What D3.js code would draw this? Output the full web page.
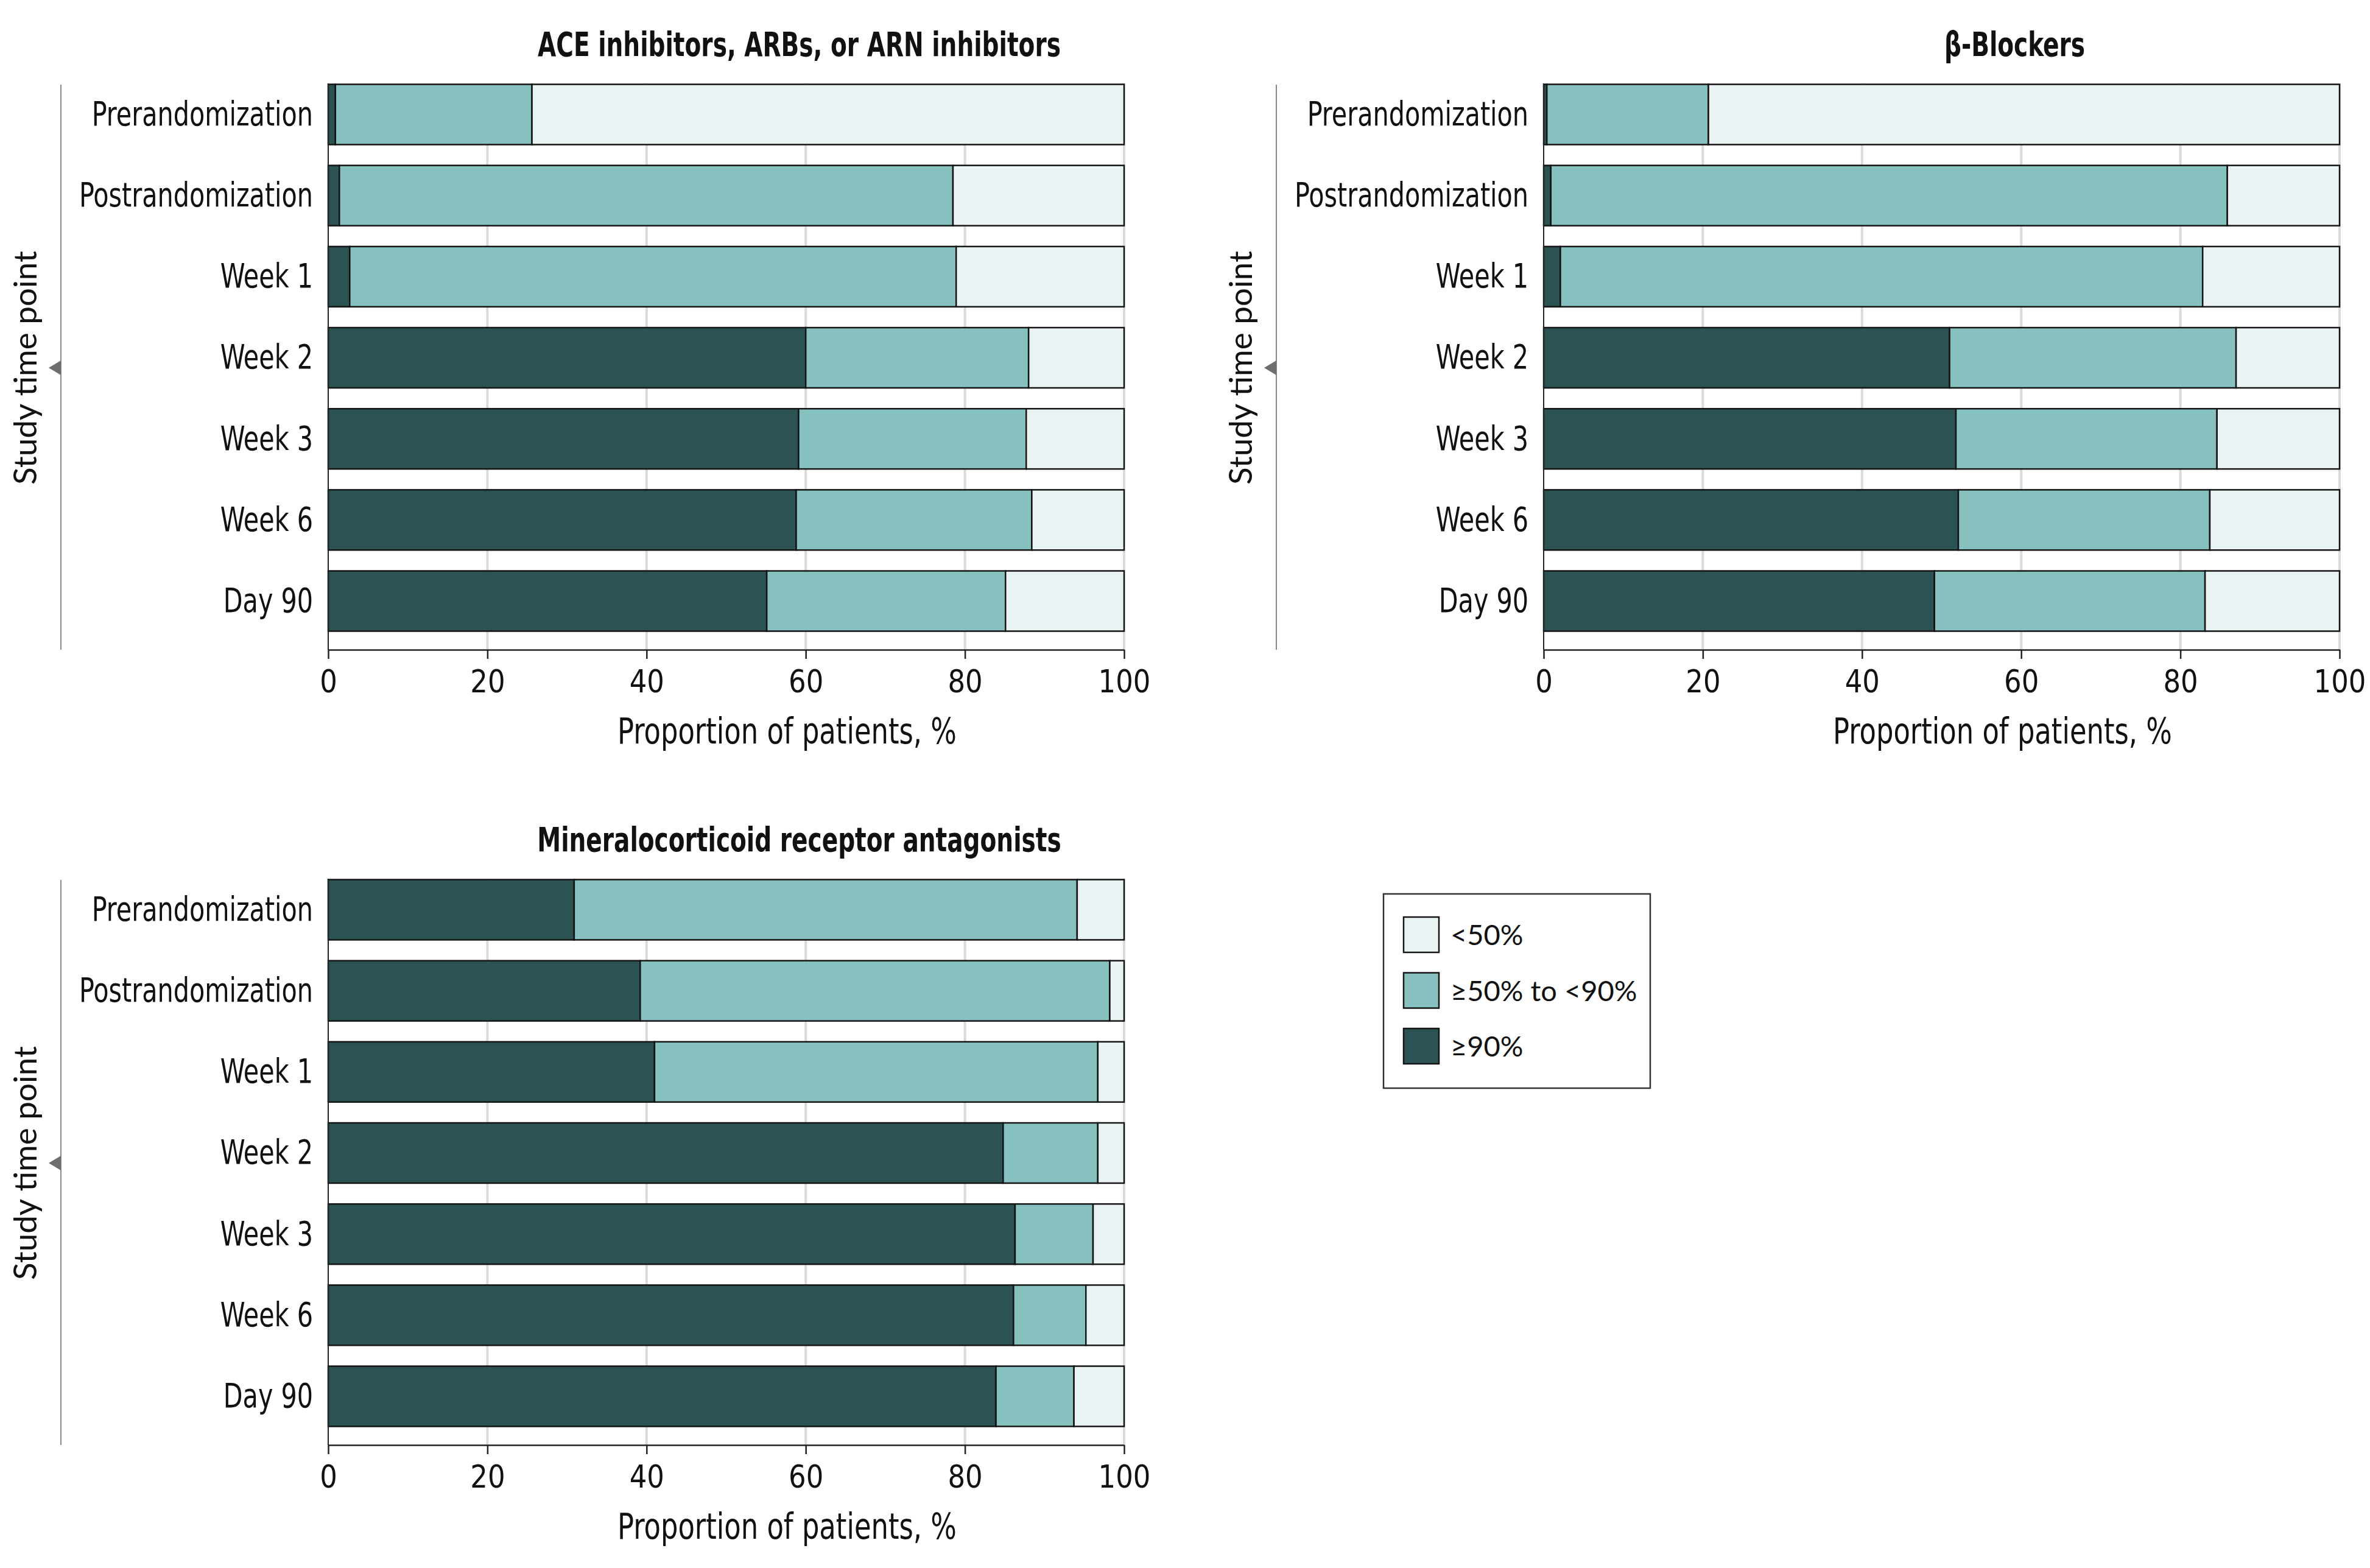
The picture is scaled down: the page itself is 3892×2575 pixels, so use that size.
<!DOCTYPE html>
<html><head><meta charset="utf-8">
<script src="https://cdn.jsdelivr.net/npm/d3@7"></script>
<style>
html,body{margin:0;padding:0;background:#fff;}
svg{display:block;}
</style></head><body>
<svg id="chart" width="3892" height="2575"></svg>
<script>
// ---------- data ----------
const categories = ["Prerandomization","Postrandomization","Week 1","Week 2","Week 3","Week 6","Day 90"];
const seriesKeys = ["ge90","mid","lt50"];
const legendKeys = ["lt50","mid","ge90"];
const legendLabels = ["<50%","≥50% to <90%","≥90%"];
const xTicks = [0,20,40,60,80,100];
const panelTitles = ["ACE inhibitors, ARBs, or ARN inhibitors","β-Blockers","Mineralocorticoid receptor antagonists"];
const yAxisTitle = "Study time point";
const xAxisTitle = "Proportion of patients, %";

// ACE inhibitors, ARBs, or ARN inhibitors
const aceGe90 = [0.9, 1.4, 2.7, 60.0, 59.1, 58.8, 55.1];
const aceMid  = [24.7, 77.1, 76.2, 28.0, 28.6, 29.6, 30.0];
const aceLt50 = [74.4, 21.5, 21.1, 12.0, 12.3, 11.6, 14.9];
// beta-blockers
const bbGe90 = [0.4, 0.9, 2.1, 51.0, 51.8, 52.1, 49.1];
const bbMid  = [20.3, 85.0, 80.7, 36.0, 32.8, 31.6, 34.0];
const bbLt50 = [79.3, 14.1, 17.2, 13.0, 15.4, 16.3, 16.9];
// MRA
const mraGe90 = [30.9, 39.2, 41.0, 84.8, 86.3, 86.1, 83.9];
const mraMid  = [63.2, 59.0, 55.7, 11.9, 9.8, 9.1, 9.8];
const mraLt50 = [5.9, 1.8, 3.3, 3.3, 3.9, 4.8, 6.3];

// ---------- style ----------
const colors = {ge90:"#2b5353", mid:"#86c1bf", lt50:"#eaf3f4"};
const narrow = "'Liberation Sans Narrow','Arial Narrow','DejaVu Sans Condensed',sans-serif";
const regular = "Lato,'Open Sans',sans-serif";

// horizontally condense text glyphs (reference uses a condensed face)
function condense(sel, factor){
  sel.each(function(){
    const w = this.getComputedTextLength();
    d3.select(this).attr("textLength", w*factor).attr("lengthAdjust","spacingAndGlyphs");
  });
}

const svg = d3.select("#chart");

const panels = [
  {title:panelTitles[0], ge90:aceGe90, mid:aceMid, lt50:aceLt50, ox:0,    oy:0},
  {title:panelTitles[1], ge90:bbGe90,  mid:bbMid,  lt50:bbLt50,  ox:1996, oy:0},
  {title:panelTitles[2], ge90:mraGe90, mid:mraMid, lt50:mraLt50, ox:0,    oy:1306}
];

panels.forEach(drawPanel);

function drawPanel(p){
  const g = svg.append("g").attr("transform",`translate(${p.ox},${p.oy})`);
  const x = d3.scaleLinear().domain([0,100]).range([539,1846]);
  const y = d3.scaleBand().domain(categories).range([138.5,1036.5]).paddingInner(0.257).paddingOuter(0);
  const axisY = 1067;
  const top = y.range()[0] - 1.5;

  // gridlines
  g.append("g").selectAll("line").data(xTicks.filter(d=>d>0)).join("line")
    .attr("x1",d=>x(d)).attr("x2",d=>x(d))
    .attr("y1",top).attr("y2",axisY)
    .attr("stroke","#dadada").attr("stroke-width",4);

  // bars
  const rows = categories.map((c,i)=>({cat:c, ge90:p.ge90[i], mid:p.mid[i], lt50:p.lt50[i]}));
  const stacked = d3.stack().keys(seriesKeys)(rows);
  g.append("g").selectAll("g").data(stacked).join("g")
    .attr("fill",d=>colors[d.key])
    .selectAll("rect").data(d=>d).join("rect")
    .attr("x",d=>x(d[0])).attr("width",d=>x(d[1])-x(d[0]))
    .attr("y",d=>y(d.data.cat)).attr("height",y.bandwidth())
    .attr("stroke","#151515").attr("stroke-width",2.5);

  // y axis
  const ya = g.append("g").attr("transform",`translate(${x(0)},0)`)
    .call(d3.axisLeft(y).tickSize(0).tickPadding(25));
  ya.select(".domain").remove();
  ya.selectAll("text").attr("font-family",narrow).attr("font-size",56).attr("fill","#111")
    .call(condense, 0.82);
  g.append("line").attr("x1",x(0)).attr("x2",x(0)).attr("y1",top).attr("y2",axisY)
    .attr("stroke","#222").attr("stroke-width",2);

  // x axis
  const xa = g.append("g").attr("transform",`translate(0,${axisY})`)
    .call(d3.axisBottom(x).tickValues(xTicks).tickSize(15).tickSizeOuter(0).tickPadding(19));
  xa.select(".domain").attr("stroke","#222").attr("stroke-width",2.5);
  xa.selectAll(".tick line").attr("stroke","#222").attr("stroke-width",2.5);
  xa.selectAll("text").attr("font-family",narrow).attr("font-size",51).attr("fill","#111")
    .call(condense, 0.98);

  // x title
  g.append("text").attr("x",(x(0)+x(100))/2+100).attr("y",1221)
    .attr("text-anchor","middle").attr("font-family",narrow).attr("font-size",59).attr("fill","#111")
    .text(xAxisTitle).call(condense, 0.845);

  // panel title
  g.append("text").attr("x",(x(0)+x(100))/2+120).attr("y",92)
    .attr("text-anchor","middle").attr("font-family",narrow).attr("font-weight","bold")
    .attr("font-size",56).attr("fill","#111").text(p.title).call(condense, 0.775);

  // left bracket line, triangle, label
  const lx = x(0) - 439;
  const my = 604;
  g.append("line").attr("x1",lx).attr("x2",lx).attr("y1",top+2).attr("y2",axisY)
    .attr("stroke","#8a8a8a").attr("stroke-width",2);
  g.append("path").attr("d",`M${lx-20},${my}L${lx},${my-12}L${lx},${my+12}Z`).attr("fill","#6e6e6e");
  g.append("text").attr("transform",`translate(${lx-40},${my}) rotate(-90)`)
    .attr("text-anchor","middle").attr("font-family",regular).attr("font-size",53).attr("fill","#111")
    .text(yAxisTitle);
}

// legend
const lg = svg.append("g");
lg.append("rect").attr("x",2272).attr("y",1468).attr("width",438).attr("height",319)
  .attr("fill","#fff").attr("stroke","#333").attr("stroke-width",2.5);
const items = lg.selectAll("g.item").data(legendKeys).join("g").attr("class","item")
  .attr("transform",(d,i)=>`translate(2305,${1506+i*91.5})`);
items.append("rect").attr("width",58).attr("height",58)
  .attr("fill",d=>colors[d]).attr("stroke","#151515").attr("stroke-width",2.5);
items.append("text").attr("x",77).attr("y",46)
  .attr("font-family",regular).attr("font-size",47).attr("fill","#111")
  .text((d,i)=>legendLabels[i]);
</script>
</body></html>
